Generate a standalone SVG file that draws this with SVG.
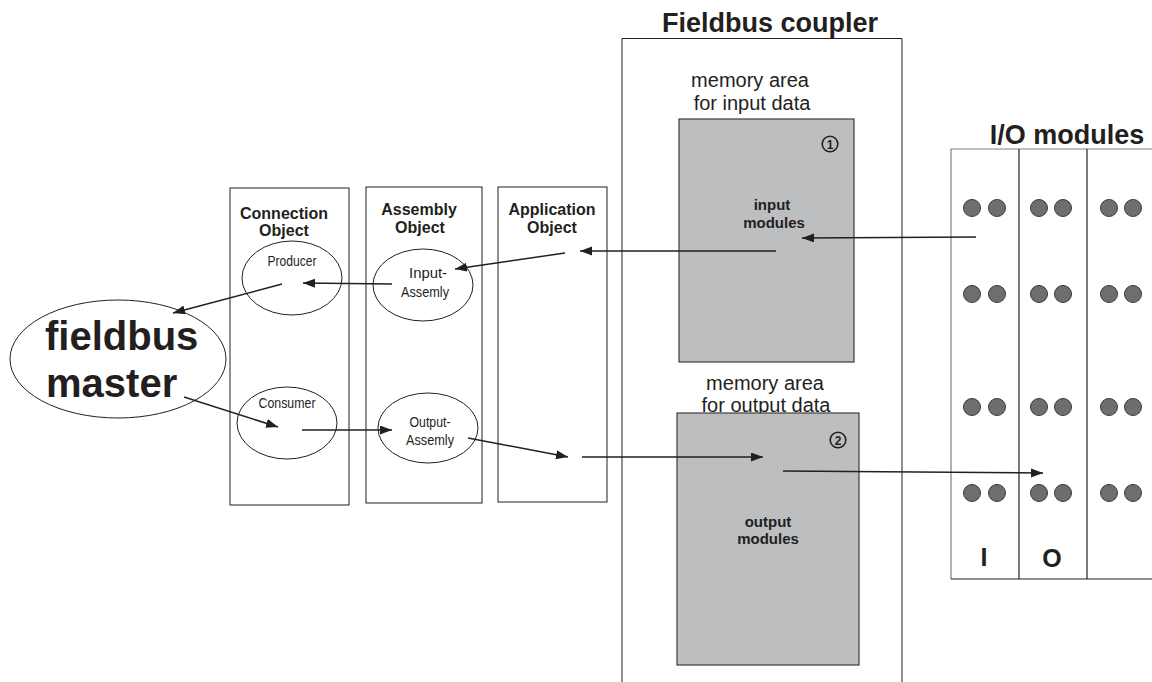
<svg xmlns="http://www.w3.org/2000/svg" width="1152" height="682" viewBox="0 0 1152 682">
<style>
.bx{fill:#fff;stroke:#231f20;stroke-width:1}
.el{fill:#fff;stroke:#231f20;stroke-width:1}
.gray{fill:#bcbec0;stroke:#3d3d3d;stroke-width:1.2}
.dot{fill:#6d6e70;stroke:#3a3a3a;stroke-width:1}
.ln{stroke:#231f20;stroke-width:1.5;fill:none}
.big{font-family:"Liberation Sans",Arial,sans-serif;font-weight:bold;font-size:27px;fill:#231f20;text-anchor:middle}
.hd{font-family:"Liberation Sans",Arial,sans-serif;font-weight:bold;font-size:16px;fill:#231f20;text-anchor:middle}
.sm{font-family:"Liberation Sans",Arial,sans-serif;font-size:15px;fill:#231f20;text-anchor:middle}
.mem{font-family:"Liberation Sans",Arial,sans-serif;font-size:20px;fill:#231f20;text-anchor:middle}
.mod{font-family:"Liberation Sans",Arial,sans-serif;font-weight:bold;font-size:15px;fill:#231f20;text-anchor:middle}
.fm{font-family:"Liberation Sans",Arial,sans-serif;font-weight:bold;font-size:40px;fill:#231f20}
.num{font-family:"Liberation Sans",Arial,sans-serif;font-weight:bold;font-size:12px;fill:#231f20;text-anchor:middle}
.io{font-family:"Liberation Sans",Arial,sans-serif;font-weight:bold;font-size:25px;fill:#231f20;text-anchor:middle}
</style>
<defs>
<marker id="ah" markerUnits="userSpaceOnUse" markerWidth="13" markerHeight="10" refX="12" refY="4.5" orient="auto">
<path d="M0,0 L12,4.5 L0,9 z" fill="#231f20"/>
</marker>
</defs>
<rect width="1152" height="682" fill="#fff"/>

<g id="fieldbus-coupler">
<text class="big" x="770" y="32">Fieldbus coupler</text>
<path class="bx" d="M622,682 V38.5 H902 V682" fill="none"/>
</g>

<g id="input-memory">
<text class="mem" x="750" y="87">memory area</text>
<text class="mem" x="752" y="110">for input data</text>
<rect class="gray" x="679" y="119" width="175" height="243"/>
<circle cx="830" cy="144" r="7.8" fill="none" stroke="#231f20" stroke-width="1.6"/>
<text class="num" x="830" y="148.5">1</text>
<text class="mod" x="772" y="210">input</text>
<text class="mod" x="774" y="228">modules</text>
</g>

<g id="output-memory">
<text class="mem" x="765" y="390">memory area</text>
<text class="mem" x="766" y="412">for output data</text>
<rect class="gray" x="677" y="413" width="182" height="252"/>
<circle cx="838" cy="440" r="7.8" fill="none" stroke="#231f20" stroke-width="1.6"/>
<text class="num" x="838" y="444.5">2</text>
<text class="mod" x="768" y="527">output</text>
<text class="mod" x="768" y="544">modules</text>
</g>

<g id="io-modules">
<text class="big" x="1067" y="144">I/O modules</text>
<path d="M951,579 V149 H1152" fill="none" stroke="#808080" stroke-width="1.2"/>
<path d="M951,579 H1152" fill="none" stroke="#231f20" stroke-width="1.2"/>
<line x1="1019" y1="149" x2="1019" y2="579" stroke="#231f20" stroke-width="1.2"/>
<line x1="1087" y1="149" x2="1087" y2="579" stroke="#231f20" stroke-width="1.2"/>
<g>
<circle class="dot" cx="972" cy="208" r="8.5"/><circle class="dot" cx="997" cy="208" r="8.5"/>
<circle class="dot" cx="1039" cy="208" r="8.5"/><circle class="dot" cx="1063" cy="208" r="8.5"/>
<circle class="dot" cx="1109" cy="208" r="8.5"/><circle class="dot" cx="1133" cy="208" r="8.5"/>
<circle class="dot" cx="972" cy="294" r="8.5"/><circle class="dot" cx="997" cy="294" r="8.5"/>
<circle class="dot" cx="1039" cy="294" r="8.5"/><circle class="dot" cx="1063" cy="294" r="8.5"/>
<circle class="dot" cx="1109" cy="294" r="8.5"/><circle class="dot" cx="1133" cy="294" r="8.5"/>
<circle class="dot" cx="972" cy="407" r="8.5"/><circle class="dot" cx="997" cy="407" r="8.5"/>
<circle class="dot" cx="1039" cy="407" r="8.5"/><circle class="dot" cx="1063" cy="407" r="8.5"/>
<circle class="dot" cx="1109" cy="407" r="8.5"/><circle class="dot" cx="1133" cy="407" r="8.5"/>
<circle class="dot" cx="972" cy="493" r="8.5"/><circle class="dot" cx="997" cy="493" r="8.5"/>
<circle class="dot" cx="1039" cy="493" r="8.5"/><circle class="dot" cx="1063" cy="493" r="8.5"/>
<circle class="dot" cx="1109" cy="493" r="8.5"/><circle class="dot" cx="1133" cy="493" r="8.5"/>
</g>
<text class="io" x="984" y="566">I</text>
<text class="io" x="1052" y="567">O</text>
</g>

<g id="connection-object">
<rect class="bx" x="230" y="188" width="119" height="317"/>
<text class="hd" x="284" y="219">Connection</text>
<text class="hd" x="284" y="236">Object</text>
</g>
<g id="assembly-object">
<rect class="bx" x="366" y="187" width="116" height="316"/>
<text class="hd" x="419" y="215">Assembly</text>
<text class="hd" x="420" y="233">Object</text>
</g>
<g id="application-object">
<rect class="bx" x="498" y="187" width="109" height="315"/>
<text class="hd" x="552" y="215">Application</text>
<text class="hd" x="552" y="233">Object</text>
</g>

<g id="producer">
<ellipse class="el" cx="292" cy="278" rx="50" ry="37"/>
<text class="sm" x="292" y="266" textLength="49" lengthAdjust="spacingAndGlyphs">Producer</text>
</g>
<g id="consumer">
<ellipse class="el" cx="287" cy="423" rx="50" ry="36"/>
<text class="sm" x="287" y="408" textLength="57" lengthAdjust="spacingAndGlyphs">Consumer</text>
</g>
<g id="input-assembly">
<ellipse class="el" cx="423" cy="285" rx="50" ry="36"/>
<text class="sm" x="428" y="278" textLength="38" lengthAdjust="spacingAndGlyphs">Input-</text>
<text class="sm" x="425" y="297" textLength="48" lengthAdjust="spacingAndGlyphs">Assemly</text>
</g>
<g id="output-assembly">
<ellipse class="el" cx="428" cy="428" rx="50" ry="35"/>
<text class="sm" x="430" y="427" textLength="41" lengthAdjust="spacingAndGlyphs">Output-</text>
<text class="sm" x="430" y="445" textLength="48" lengthAdjust="spacingAndGlyphs">Assemly</text>
</g>
<g id="fieldbus-master">
<ellipse class="el" cx="118" cy="359" rx="108" ry="59"/>
<text class="fm" x="45" y="350">fieldbus</text>
<text class="fm" x="46" y="397">master</text>
</g>

<g id="connectors" class="ln">
<line x1="976" y1="237" x2="802" y2="238" marker-end="url(#ah)"/>
<line x1="776" y1="251" x2="580" y2="251" marker-end="url(#ah)"/>
<line x1="565" y1="253" x2="455" y2="269" marker-end="url(#ah)"/>
<line x1="392" y1="284" x2="303" y2="283" marker-end="url(#ah)"/>
<line x1="282" y1="284" x2="173" y2="313" marker-end="url(#ah)"/>
<line x1="184" y1="397" x2="278" y2="427" marker-end="url(#ah)"/>
<line x1="302" y1="430" x2="392" y2="430" marker-end="url(#ah)"/>
<line x1="468" y1="438" x2="568" y2="457" marker-end="url(#ah)"/>
<line x1="582" y1="457" x2="763" y2="457" marker-end="url(#ah)"/>
<line x1="783" y1="471" x2="1043" y2="473" marker-end="url(#ah)"/>
</g>
</svg>
